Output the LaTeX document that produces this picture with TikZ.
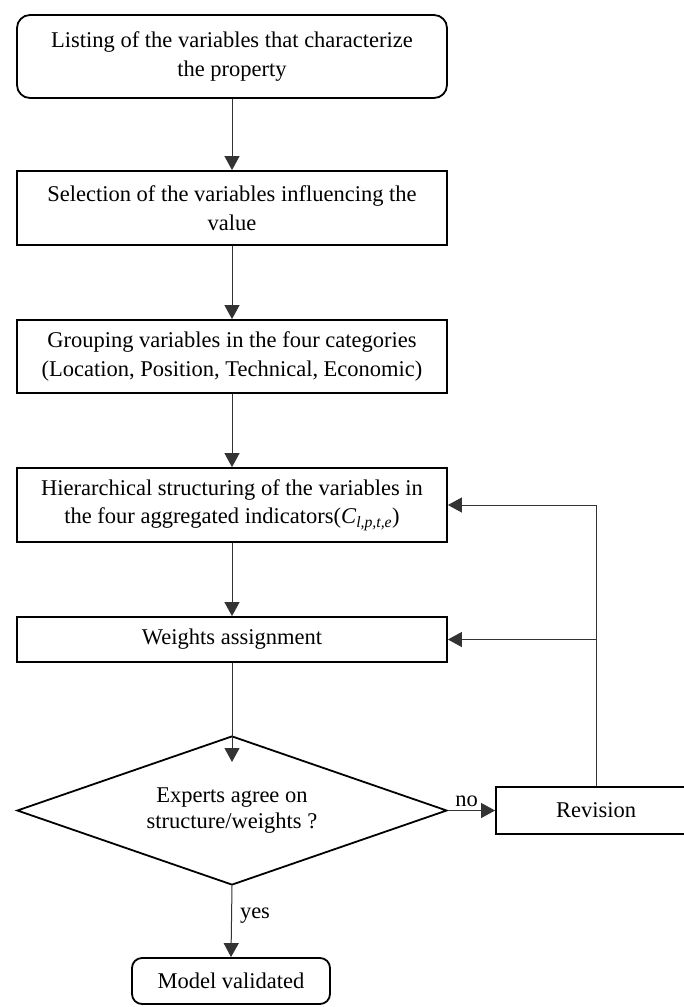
\documentclass[tikz,border=0pt]{standalone}
\usepackage{fontspec}
\setmainfont{Liberation Serif}
\usetikzlibrary{shapes.geometric,arrows.meta}
\begin{document}
\begin{tikzpicture}[x=1pt,y=-1pt,
  box/.style={draw, line width=1.8pt, minimum width=430pt, align=center, inner sep=2pt, font=\fontsize{22.5}{28.5}\selectfont},
  conn/.style={draw=black!80, line width=1pt, -{Triangle[length=14pt,width=15pt]}},
  lbl/.style={font=\fontsize{22.5}{27}\selectfont, inner sep=0pt, text=black}]
\useasboundingbox (0,0) rectangle (683,1007);
\node[box, rounded corners=13pt, minimum height=83pt] (b1) at (232,56.5) {Listing of the variables that characterize\\the property};
\node[box, minimum height=74pt] (b2) at (232,208) {Selection of the variables influencing the\\value};
\node[box, minimum height=73pt] (b3) at (232,356.5) {Grouping variables in the four categories\\(Location, Position, Technical, Economic)};
\node[box, minimum height=74pt] (b4) at (232,505) {Hierarchical structuring of the variables in\\the four aggregated indicators(\textit{C}\textsubscript{\textit{l,p,t,e}})};
\node[box, minimum height=45pt] (b5) at (232,639.5) {Weights assignment};
\node[diamond, draw, line width=1.8pt, aspect=2.886, minimum width=430pt, minimum height=149pt, inner sep=0pt, align=center, font=\fontsize{22.5}{26}\selectfont] (dia) at (232,810.5) {Experts agree on\\structure/weights ?};
\node[box, minimum width=200pt, minimum height=47pt] (rev) at (596,810.5) {Revision};
\node[box, rounded corners=10pt, minimum width=198pt, minimum height=46pt] (end) at (231,981) {Model validated};
\coordinate (dtip) at (232,762);
\draw[conn] (b1) -- (b2);
\draw[conn] (b2) -- (b3);
\draw[conn] (b3) -- (b4);
\draw[conn] (b4) -- (b5);
\draw[conn] (b5.south) -- (dtip);
\draw[conn] (dia.east) -- node[lbl, above=3pt, xshift=-5pt] {no} (rev.west);
\draw[conn] (dia.south) -- node[lbl, right=8pt, yshift=6pt] {yes} (end.north);
\draw[conn] (rev.north) -- (rev.north |- b4.east) -- (b4.east);
\draw[conn] (rev.north |- b5.east) -- (b5.east);
\end{tikzpicture}
\end{document}
